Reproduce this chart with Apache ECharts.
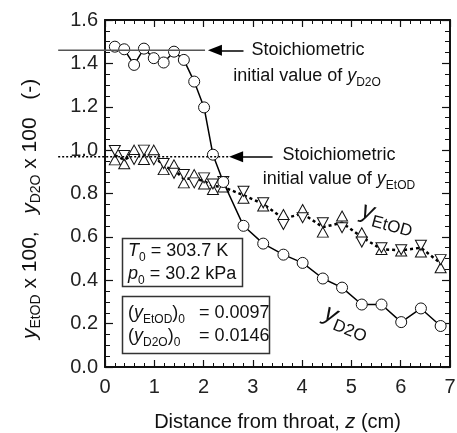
<!DOCTYPE html>
<html>
<head>
<meta charset="utf-8">
<script src="https://cdn.jsdelivr.net/npm/echarts@6/dist/echarts.min.js"></script>
<style>
  html, body { margin: 0; padding: 0; background: #fff; }
  #chart { width: 457px; height: 433px; }
</style>
</head>
<body>
<div id="chart"></div>
<script>
// distance from throat (cm), same positions for both species
var zPos = [0.20, 0.39, 0.59, 0.79, 0.99, 1.19, 1.40, 1.60, 1.81, 2.01, 2.19, 2.40,
  2.81, 3.21, 3.62, 4.01, 4.42, 4.81, 5.21, 5.61, 6.01, 6.41, 6.81]
// y_D2O x 100
var yD2O = [1.477, 1.465, 1.393, 1.468, 1.424, 1.404, 1.454, 1.416, 1.316, 1.197, 0.979, 0.853,
  0.651, 0.569, 0.518, 0.480, 0.408, 0.366, 0.288, 0.288, 0.207, 0.270, 0.189]
// y_EtOD x 100, up triangles / down triangles / dotted mean line
var yEtODUp = [0.955, 0.937, 1.000, 0.957, 1.000, 0.910, 0.932, 0.849, 0.887, 0.844, 0.818, 0.830,
  0.778, 0.742, 0.703, 0.726, 0.622, 0.696, 0.619, 0.542, 0.535, 0.530, 0.458]
var yEtODDown = [0.998, 0.975, 0.957, 1.000, 0.956, 0.938, 0.893, 0.888, 0.849, 0.872, 0.844, 0.855,
  0.810, 0.757, 0.657, 0.688, 0.665, 0.642, 0.576, 0.550, 0.541, 0.561, 0.495]
var yEtODMean = [0.976, 0.956, 0.978, 0.978, 0.978, 0.924, 0.910, 0.868, 0.868, 0.858, 0.834, 0.830,
  0.792, 0.752, 0.684, 0.707, 0.645, 0.665, 0.599, 0.543, 0.538, 0.550, 0.478]
// stoichiometric initial values (x 100) and the x span of their guide lines
var stoichD2O = 1.46
var stoichEtOD = 0.97
var stoichD2OSpan = [-0.95, 2.03]
var stoichEtODSpan = [-0.95, 2.5]
var xTicks = [0, 7, 1]
var yTicks = [0, 1.6, 0.2]

var FONT = '"Liberation Sans", Arial, Helvetica, sans-serif'

function pairs(xs, ys) {
  return xs.map(function(x, i) { return [x, ys[i]] })
}

function makeRich(big, small) {
  return {
    n: { fontSize: big, fontFamily: FONT, color: '#111', lineHeight: 26, verticalAlign: 'middle' },
    i: { fontSize: big, fontFamily: FONT, fontStyle: 'italic', color: '#111', lineHeight: 26, verticalAlign: 'middle' },
    s: { fontSize: small, fontFamily: FONT, color: '#111', lineHeight: small, verticalAlign: 'bottom' }
  }
}
var subRich = makeRich(18, 12)
var nameRich = makeRich(21, 14)

var gid = 0
function txt(x, y, text, align, rot, rich) {
  gid++
  return {
    id: 't' + gid, type: 'text', x: x, y: y, rotation: rot || 0, z: 100,
    style: {
      text: text, rich: rich || subRich, align: align || 'left', verticalAlign: 'middle',
      fontFamily: FONT, fontSize: 18, fill: '#111'
    }
  }
}

var bigRich = {
  i: { fontSize: 25, fontFamily: FONT, fontStyle: 'italic', color: '#111', lineHeight: 34, verticalAlign: 'middle' },
  s: { fontSize: 17, fontFamily: FONT, color: '#111', lineHeight: 17, verticalAlign: 'bottom' }
}

function frameAxis(extra) {
  return Object.assign({
    type: 'value',
    axisLine: { show: true, onZero: false, lineStyle: { color: '#111', width: 2 } },
    splitLine: { show: false }
  }, extra)
}

var chart = echarts.init(document.getElementById('chart'))
chart.setOption({
  animation: false,
  backgroundColor: '#fff',
  grid: { left: 105, right: 7, top: 20, bottom: 66, outerBoundsMode: 'none', containLabel: false },
  xAxis: [
    frameAxis({
      min: xTicks[0], max: xTicks[1], interval: xTicks[2],
      axisTick: { show: true, inside: true, length: 7, lineStyle: { color: '#111', width: 1.2 } },
      minorTick: { show: true, splitNumber: 5, length: 4, lineStyle: { color: '#111', width: 1 } },
      axisLabel: { fontSize: 20, fontFamily: FONT, color: '#222', margin: 10 },
      name: 'Distance from throat, {i|z} (cm)',
      nameLocation: 'middle', nameGap: 45,
      nameTextStyle: {
        fontSize: 20, fontFamily: FONT, color: '#111',
        rich: { i: { fontSize: 20, fontFamily: FONT, fontStyle: 'italic', color: '#111' } }
      }
    }),
    frameAxis({
      position: 'top', min: xTicks[0], max: xTicks[1], interval: xTicks[2],
      axisTick: { show: true, inside: true, length: 7, lineStyle: { color: '#111', width: 1.2 } },
      minorTick: { show: true, splitNumber: 5, length: 4, lineStyle: { color: '#111', width: 1 } },
      axisLabel: { show: false }
    })
  ],
  yAxis: [
    frameAxis({
      min: yTicks[0], max: yTicks[1], interval: yTicks[2],
      axisTick: { show: true, inside: true, length: 8, lineStyle: { color: '#111', width: 1.2 } },
      minorTick: { show: true, splitNumber: 4, length: 5, lineStyle: { color: '#111', width: 1 } },
      axisLabel: { fontSize: 20, fontFamily: FONT, color: '#222', margin: 7,
        formatter: function(v) { return v.toFixed(1) } }
    }),
    frameAxis({
      position: 'right', min: yTicks[0], max: yTicks[1], interval: yTicks[2],
      axisTick: { show: true, inside: true, length: 8, lineStyle: { color: '#111', width: 1.2 } },
      minorTick: { show: true, splitNumber: 4, length: 5, lineStyle: { color: '#111', width: 1 } },
      axisLabel: { show: false }
    })
  ],
  series: [
    {
      // arrows pointing at the stoichiometric guide lines
      type: 'line', symbol: 'none', z: 2, data: [],
      markLine: {
        silent: true, symbol: ['none', 'triangle'], symbolSize: [11, 14],
        label: { show: false },
        lineStyle: { type: 'solid', color: '#000', width: 1.5 },
        data: [
          [{ coord: [2.81, stoichD2O] }, { coord: [2.23, stoichD2O] }],
          [{ coord: [3.40, stoichEtOD] }, { coord: [2.66, stoichEtOD] }]
        ]
      }
    },
    {
      type: 'line', symbol: 'none', z: 3,
      data: pairs(zPos, yEtODMean),
      lineStyle: { color: '#000', width: 2.5, type: [3, 3] }
    },
    {
      type: 'scatter', symbol: 'triangle', symbolSize: [11, 10], z: 4,
      data: pairs(zPos, yEtODUp),
      itemStyle: { color: '#fff', borderColor: '#111', borderWidth: 1, opacity: 1 }
    },
    {
      type: 'scatter', symbol: 'triangle', symbolSize: [11, 10], symbolRotate: 180, z: 4,
      data: pairs(zPos, yEtODDown),
      itemStyle: { color: '#fff', borderColor: '#111', borderWidth: 1, opacity: 1 }
    },
    {
      type: 'line', symbol: 'circle', symbolSize: 11, z: 5,
      data: pairs(zPos, yD2O),
      lineStyle: { color: '#000', width: 1.5 },
      itemStyle: { color: '#fff', borderColor: '#111', borderWidth: 1 }
    }
  ],
  graphic: [
    // y axis title
    txt(30, 209, '{i|y}{s|EtOD}{n| x 100,   }{i|y}{s|D2O}{n| x 100   (-)}', 'center', Math.PI / 2, nameRich),
    // annotations
    txt(308, 50, '{n|Stoichiometric}', 'center'),
    txt(307, 76, '{n|initial value of }{i|y}{s|D2O}', 'center'),
    txt(339, 155, '{n|Stoichiometric}', 'center'),
    txt(339, 179, '{n|initial value of }{i|y}{s|EtOD}', 'center'),
    // condition boxes
    {
      id: 'box1', type: 'rect', z: 90,
      shape: { x: 122.5, y: 238.5, width: 120, height: 48 },
      style: { fill: '#fff', stroke: '#333', lineWidth: 1.5 }
    },
    txt(128, 251, '{i|T}{s|0}{n| = 303.7 K}'),
    txt(128, 274, '{i|p}{s|0}{n| = 30.2 kPa}'),
    {
      id: 'box2', type: 'rect', z: 90,
      shape: { x: 122.5, y: 296.5, width: 147, height: 57 },
      style: { fill: '#fff', stroke: '#333', lineWidth: 1.5 }
    },
    txt(128, 313, '{n|(}{i|y}{s|EtOD}{n|)}{s|0}'),
    txt(199, 313, '{n|= 0.0097}'),
    txt(128, 336, '{n|(}{i|y}{s|D2O}{n|)}{s|0}'),
    txt(199, 336, '{n|= 0.0146}'),
    // curve labels
    txt(388, 217, '{i|y}{s|EtOD}', 'center', -15 * Math.PI / 180, bigRich),
    txt(347, 321, '{i|y}{s|D2O}', 'center', -22 * Math.PI / 180, bigRich)
  ]
})

// stoichiometric guide lines reach past the left axis into the label area
function guide(id, span, y, style) {
  var a = chart.convertToPixel({ gridIndex: 0 }, [span[0], y])
  var b = chart.convertToPixel({ gridIndex: 0 }, [span[1], y])
  return { id: id, type: 'line', z: 50, shape: { x1: a[0], y1: a[1], x2: b[0], y2: b[1] }, style: style }
}
chart.setOption({
  graphic: [
    guide('guideD2O', stoichD2OSpan, stoichD2O, { stroke: '#555', lineWidth: 1.5 }),
    guide('guideEtOD', stoichEtODSpan, stoichEtOD, { stroke: '#000', lineWidth: 1.5, lineDash: [2, 2] })
  ]
})

window.addEventListener('resize', function() {
  chart.resize()
})
</script>
</body>
</html>
